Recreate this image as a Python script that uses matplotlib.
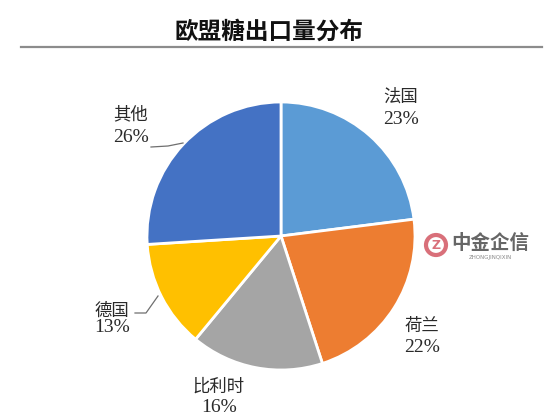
import matplotlib.pyplot as plt
from matplotlib.patches import Circle

plt.rcParams['font.family'] = ['Liberation Serif', 'Noto Sans CJK SC', 'DejaVu Sans']

# data
countries = ['法国', '荷兰', '比利时', '德国', '其他']
shares = [23, 22, 16, 13, 26]
colors = ['#5B9BD5', '#ED7D31', '#A5A5A5', '#FFC000', '#4472C4']
title = '欧盟糖出口量分布'

W, H = 554, 419
fig = plt.figure(figsize=(W / 100, H / 100), dpi=100)
ax = fig.add_axes([0, 0, 1, 1])


def py(y):
    # image pixel row -> data y
    return H - y


ax.pie(shares, colors=colors, startangle=90, counterclock=False,
       center=(281, py(236)), radius=134,
       wedgeprops=dict(edgecolor='white', linewidth=2))
ax.set_xlim(0, W)
ax.set_ylim(0, H)
ax.set_aspect('auto')
ax.axis('off')

# title and rule under it
ax.text(269, py(32), title, ha='center', va='center', fontsize=17,
        fontweight='heavy', family=['Noto Sans CJK SC'], color='#111111')
ax.plot([21, 542], [py(47), py(47)], color='#8c8c8c', lw=1.6)

# label positions (name centre, pct centre)
pos = [(401, 97, 119), (422, 326, 347), (219, 387, 407), (112, 311, 327), (131, 114, 138)]
for name, val, (x, yn, yp) in zip(countries, shares, pos):
    ax.text(x, py(yn), name, ha='center', va='center', fontsize=12.5,
            family=['Noto Sans CJK SC'], color='#2a2a2a')
    ax.text(x, py(yp), f'{val}%', ha='center', va='center', fontsize=14,
            color='#2a2a2a')

# leader lines
ax.plot([151, 168, 183], [py(147), py(146), py(143)], color='#6f6f6f', lw=0.9)
ax.plot([135, 146, 158], [py(313), py(313), py(296)], color='#6f6f6f', lw=0.9)

# watermark
ax.add_patch(Circle((436, py(245)), 10, fill=False, ec='#d9707a', lw=3))
ax.text(436, py(245), 'Z', ha='center', va='center', fontsize=9, color='#d9707a',
        fontweight='bold', family=['DejaVu Sans'])
ax.text(490, py(243), '中金企信', ha='center', va='center', fontsize=14,
        family=['Noto Sans CJK SC'], fontweight='bold', color='#666666')
ax.text(490, py(258), 'ZHONGJINQIXIN', ha='center', va='center', fontsize=4,
        family=['DejaVu Sans'], color='#888888')

fig.savefig('out.png', dpi=100)
